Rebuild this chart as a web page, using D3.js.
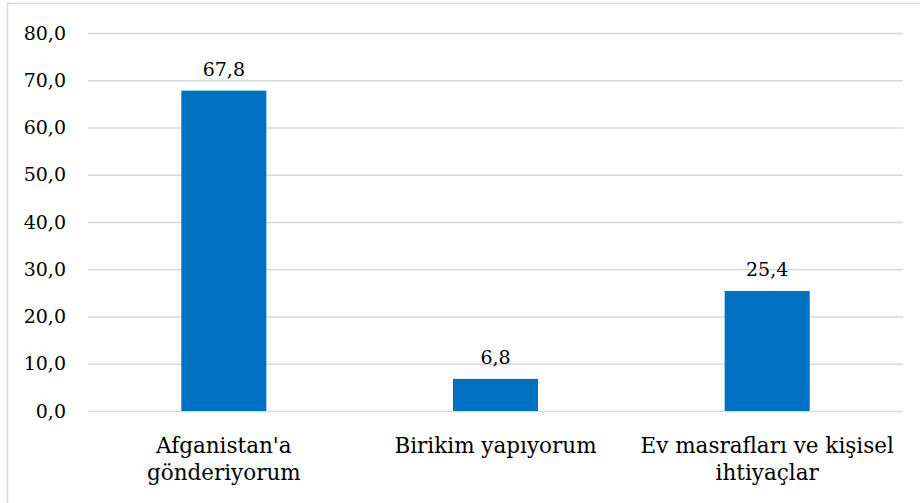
<!DOCTYPE html>
<html>
<head>
<meta charset="utf-8">
<script src="https://cdn.jsdelivr.net/npm/d3@7"></script>
<style>
  html, body { margin: 0; padding: 0; background: #fff; }
  svg { display: block; }
  svg text { font-family: "DejaVu Serif", serif; }
</style>
</head>
<body>
<script>
const categories = [["Afganistan'a", "gönderiyorum"], ["Birikim yapıyorum"], ["Ev masrafları ve kişisel", "ihtiyaçlar"]];
const values = [67.8, 6.8, 25.4];
const yTicks = [0, 10, 20, 30, 40, 50, 60, 70, 80];

(function () {
const W = 920, H = 503;
const svg = d3.select("body").append("svg").attr("width", W).attr("height", H);

svg.append("rect").attr("x", 7.5).attr("y", 3.5).attr("width", W + 10).attr("height", H + 10)
  .attr("fill", "none").attr("stroke", "#d9d9d9").attr("stroke-width", 1.5);

const mLeft = 88, mRight = 903, mTop = 33, mBottom = 411;
const y = d3.scaleLinear().domain([0, 80]).range([mBottom, mTop]);
const x = d3.scaleBand().domain(d3.range(categories.length)).range([mLeft, mRight])
  .paddingInner(0.687).paddingOuter(0.3435);

const yAxis = d3.axisLeft(y).tickValues(yTicks).tickSize(-(mRight - mLeft))
  .tickFormat(d => d3.format(".1f")(d).replace(".", ","));
const gy = svg.append("g").attr("transform", `translate(${mLeft},0)`).call(yAxis);
gy.attr("font-family", null);
gy.select(".domain").remove();
gy.selectAll(".tick line").attr("stroke", "#d9d9d9").attr("stroke-width", 1.5);
gy.selectAll(".tick text").attr("x", -22).attr("font-size", 19).attr("fill", "#000");

svg.append("g").selectAll("rect").data(values).join("rect")
  .attr("x", (d, i) => x(i)).attr("width", x.bandwidth())
  .attr("y", d => y(d)).attr("height", d => y(0) - y(d))
  .attr("fill", "#0070c0");

svg.append("g").selectAll("text").data(values).join("text")
  .attr("x", (d, i) => x(i) + x.bandwidth() / 2).attr("y", d => y(d) - 15)
  .attr("text-anchor", "middle").attr("font-size", 19).attr("fill", "#000")
  .text(d => d3.format(".1f")(d).replace(".", ","));

const cl = svg.append("g").selectAll("text").data(categories).join("text")
  .attr("x", (d, i) => x(i) + x.bandwidth() / 2).attr("y", 453)
  .attr("text-anchor", "middle").attr("font-size", 21.5).attr("fill", "#000");
cl.selectAll("tspan").data(d => d).join("tspan")
  .attr("x", function() { return this.parentNode.getAttribute("x"); })
  .attr("dy", (d, i) => i === 0 ? 0 : 27).text(d => d);
})();
</script>
</body>
</html>
